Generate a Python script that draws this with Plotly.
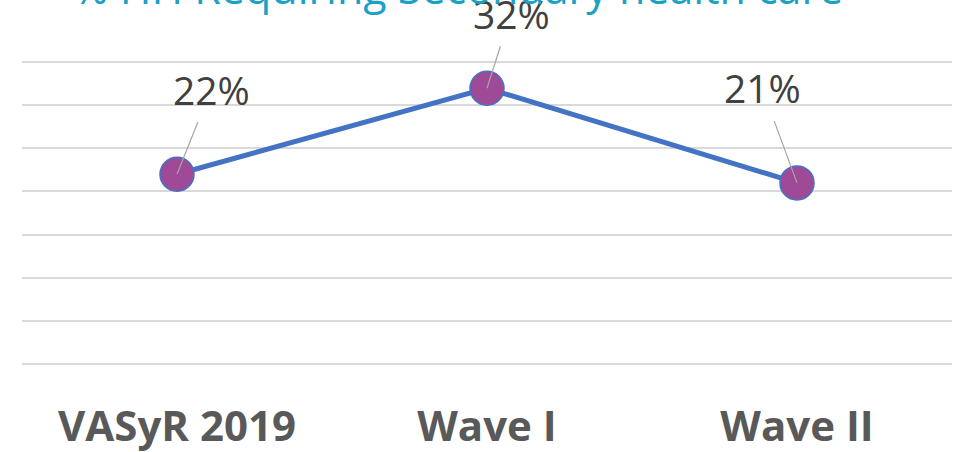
import plotly.graph_objects as go

categories = ["VASyR 2019", "Wave I", "Wave II"]
values = [0.22, 0.32, 0.21]
value_labels = ["22%", "32%", "21%"]
title_text = "% HH Requiring Secondary health care"

# label offsets (pixels) from point to label centre
label_ax = [34, 24, -35]
label_ay = [-85, -75, -95]

fig = go.Figure()
fig.add_trace(go.Scatter(
    x=categories, y=values, mode="lines+markers",
    line=dict(color="#4472C4", width=5),
    marker=dict(size=34, color="#9E4A96", line=dict(color="#4472C4", width=1.5)),
    hoverinfo="skip", showlegend=False,
))

for c, v, t, ax, ay in zip(categories, values, value_labels, label_ax, label_ay):
    fig.add_annotation(
        x=c, y=v, xref="x", yref="y", text=t, showarrow=True,
        ax=ax, ay=ay, axref="pixel", ayref="pixel",
        arrowhead=0, arrowwidth=1.2, arrowcolor="#A6A6A6",
        borderpad=6,
        font=dict(family="Open Sans", size=39, color="#404040"),
    )

fig.add_annotation(
    x=0.469, y=1.232, xref="paper", yref="paper", text=title_text,
    showarrow=False, xanchor="center", yanchor="middle",
    font=dict(family="Open Sans", size=43, color="#1BA1C4"),
)

fig.update_layout(
    width=959, height=452,
    margin=dict(l=22, r=7, t=58.5, b=84.5, autoexpand=False),
    paper_bgcolor="white", plot_bgcolor="white",
    xaxis=dict(
        range=[-0.5, 2.5], showgrid=False, zeroline=False, showline=False,
        ticks="", ticklabelstandoff=31, automargin=False,
        tickfont=dict(family="Open Sans", size=42, color="#595959", weight="bold"),
    ),
    yaxis=dict(
        range=[-0.004, 0.354], dtick=0.05, showgrid=True, gridcolor="#D9D9D9", gridwidth=1.5,
        zeroline=True, zerolinecolor="#D9D9D9", zerolinewidth=1.5,
        showticklabels=False, ticks="", showline=False, automargin=False,
    ),
)

fig.write_html("out.html", config={"displayModeBar": False},
               post_script="document.body.style.margin='0px';")
